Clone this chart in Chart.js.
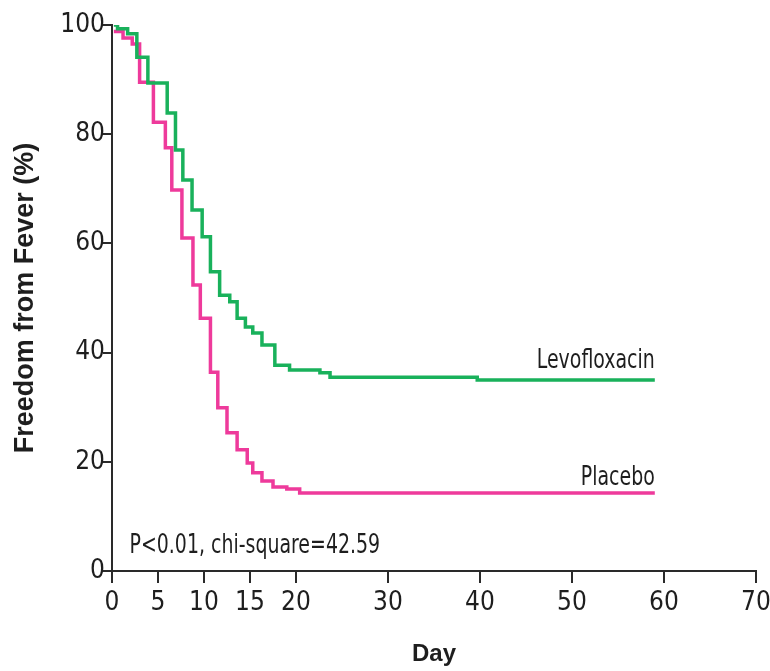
<!DOCTYPE html>
<html>
<head>
<meta charset="utf-8">
<script src="https://cdn.jsdelivr.net/npm/chart.js@4.4.1/dist/chart.umd.min.js"></script>
<style>
  html, body { margin: 0; padding: 0; background: #fff; }
  #wrap { width: 770px; height: 671px; position: relative; }
</style>
</head>
<body>
<div id="wrap"><canvas id="km"></canvas></div>
<script>
// Kaplan–Meier curves, freedom from fever (%).
const dayTicks = [0, 5, 10, 15, 20, 30, 40, 50, 60, 70];
const pctTicks = [0, 20, 40, 60, 80, 100];

const levoDays = [0.2, 0.6, 1.7, 2.7, 3.9, 6.0, 6.9, 7.7, 8.7, 9.8, 10.7, 11.7, 12.8, 13.6, 14.5, 15.3, 16.3, 17.7, 19.3, 22.6, 23.7, 39.7, 59];
const levoPct  = [100, 99.3, 98.4, 94.1, 89.4, 83.9, 77.1, 71.6, 66.1, 61.2, 54.8, 50.5, 49.3, 46.3, 44.7, 43.6, 41.4, 37.7, 36.8, 36.3, 35.5, 35.0, 35.0];

const placDays = [0.2, 1.2, 2.2, 3.0, 4.5, 5.8, 6.5, 7.6, 8.8, 9.6, 10.7, 11.5, 12.5, 13.6, 14.7, 15.3, 16.3, 17.5, 19.0, 20.4, 59];
const placPct  = [98.8, 97.6, 96.5, 89.5, 82.2, 77.5, 69.8, 61.0, 52.4, 46.3, 36.4, 29.9, 25.3, 22.2, 19.8, 18.0, 16.5, 15.4, 15.0, 14.3, 14.3];

const AXIS = "#2a2a2a";
const TEXT = "#1e1e1e";
const NARROW = '"Liberation Sans Narrow", "Arial Narrow", "DejaVu Sans Condensed", sans-serif';
const SANS = '"Liberation Sans", Arial, sans-serif';

const toXY = (xs, ys) => xs.map((d, i) => ({ x: d, y: ys[i] }));

// узкий текст: сжимаем по горизонтали, как в исходной вёрстке
function narrowText(ctx, text, px, py, align) {
  const squeeze = 0.81;
  ctx.save();
  ctx.translate(px, py);
  ctx.scale(squeeze, 1);
  ctx.textAlign = align;
  ctx.fillText(text, 0, 0);
  ctx.restore();
}

// подписи кривых и статистика — текстом прямо на поле графика
const notes = {
  id: "notes",
  afterDatasetsDraw(chart) {
    const { ctx, scales: { x, y } } = chart;
    ctx.save();
    ctx.fillStyle = TEXT;
    ctx.font = `26px ${NARROW}`;
    ctx.textBaseline = "alphabetic";
    narrowText(ctx, "Levofloxacin", x.getPixelForValue(59), y.getPixelForValue(37.2), "right");
    narrowText(ctx, "Placebo", x.getPixelForValue(59), y.getPixelForValue(15.8), "right");
    narrowText(ctx, "P<0.01, chi-square=42.59", x.getPixelForValue(1.9), y.getPixelForValue(3.3), "left");
    ctx.restore();
  },
};

new Chart(document.getElementById("km").getContext("2d"), {
  type: "line",
  data: {
    datasets: [
      {
        label: "Levofloxacin",
        data: toXY(levoDays, levoPct),
        borderColor: "#19b15b",
        borderWidth: 3.5,
        stepped: "before",
        pointRadius: 0,
        fill: false,
      },
      {
        label: "Placebo",
        data: toXY(placDays, placPct),
        borderColor: "#ee3a9b",
        borderWidth: 3.5,
        stepped: "before",
        pointRadius: 0,
        fill: false,
      },
    ],
  },
  options: {
    responsive: true,
    maintainAspectRatio: false,
    animation: false,
    layout: { padding: { top: 25, right: 14, left: 0, bottom: 0 } },
    plugins: { legend: { display: false }, tooltip: { enabled: false } },
    scales: {
      x: {
        type: "linear",
        min: 0,
        max: 70,
        afterBuildTicks: (s) => { s.ticks = dayTicks.map((v) => ({ value: v })); },
        // фиксированная высота оси и без запаса под крайние подписи
        afterFit: (s) => { s.height = 100; s.paddingLeft = 0; s.paddingRight = 0; },
        ticks: { color: TEXT, font: { family: NARROW, size: 26 }, padding: 5, autoSkip: false, maxRotation: 0 },
        grid: { drawOnChartArea: false, tickLength: 12, color: AXIS, lineWidth: 2 },
        border: { color: AXIS, width: 2 },
        title: {
          display: true, text: "Day", color: TEXT,
          font: { family: SANS, size: 24, weight: "bold" },
          padding: { top: 0, bottom: 2 },
        },
      },
      y: {
        min: 0,
        max: 100,
        afterBuildTicks: (s) => { s.ticks = pctTicks.map((v) => ({ value: v })); },
        afterFit: (s) => { s.width = 112; s.paddingTop = 0; s.paddingBottom = 0; },
        ticks: { color: TEXT, font: { family: NARROW, size: 26 }, padding: -2 },
        grid: { drawOnChartArea: false, tickLength: 9, color: AXIS, lineWidth: 2 },
        border: { color: AXIS, width: 2 },
        title: {
          display: true, text: "Freedom from Fever (%)", color: TEXT,
          font: { family: SANS, size: 27, weight: "bold" },
          padding: { top: 9, bottom: 0 },
        },
      },
    },
  },
  plugins: [notes],
});
</script>
</body>
</html>
